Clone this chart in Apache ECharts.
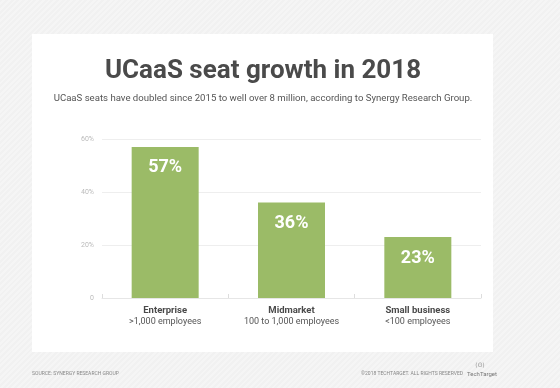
<!DOCTYPE html>
<html>
<head>
<meta charset="utf-8">
<script src="https://cdn.jsdelivr.net/npm/echarts@6/dist/echarts.min.js"></script>
<style>
html,body{margin:0;padding:0;}
body{background:repeating-linear-gradient(135deg,#f1f1f1 0px,#f1f1f1 2px,#f5f5f5 2px,#f5f5f5 4px);}
#c{width:560px;height:388px;}
</style>
</head>
<body>
<div id="c"></div>
<script>
const categories = ['Enterprise', 'Midmarket', 'Small business'];
const subLabels = ['>1,000 employees', '100 to 1,000 employees', '<100 employees'];
const values = [57, 36, 23];
const yTicks = [0, 20, 40, 60];

const chart = echarts.init(document.getElementById('c'), null, {renderer: 'canvas'});
chart.setOption({
  backgroundColor: 'transparent',
  animation: false,
  graphic: [
    {type: 'rect', shape: {x: 32, y: 34, width: 461, height: 318}, style: {fill: '#ffffff'}, z: -10},
    {type: 'text', x: 263, y: 58, style: {text: 'UCaaS seat growth in 2018', align: 'center', font: 'bold 26px "Roboto", sans-serif', fill: '#4a4a4a'}},
    {type: 'text', x: 263, y: 94, style: {text: 'UCaaS seats have doubled since 2015 to well over 8 million, according to Synergy Research Group.', align: 'center', font: '9.6px "Roboto", sans-serif', fill: '#555555'}},
    {type: 'text', x: 32, y: 371, style: {text: 'SOURCE: SYNERGY RESEARCH GROUP', font: '5px "Roboto", sans-serif', fill: '#888888'}},
    {type: 'text', x: 463, y: 371, style: {text: '©2018 TECHTARGET. ALL RIGHTS RESERVED', align: 'right', font: '5px "Roboto", sans-serif', fill: '#888888'}},
    {type: 'text', x: 467, y: 371, style: {text: 'TechTarget', font: '6px "Roboto", sans-serif', fill: '#777777'}},
    {type: 'text', x: 480, y: 362, style: {text: '(ʘ)', align: 'center', font: '6px "DejaVu Sans", sans-serif', fill: '#999999'}}
  ],
  grid: {left: 102, right: 79, top: 139, bottom: 90, containLabel: false},
  xAxis: {
    type: 'category',
    data: categories,
    axisLine: {show: true, lineStyle: {color: '#e6e6e6', width: 1}},
    axisTick: {show: true, inside: true, length: 4, lineStyle: {color: '#dddddd'}},
    axisLabel: {
      interval: 0,
      margin: 7,
      formatter: function (v, i) { return '{b|' + v + '}\n{s|' + subLabels[i] + '}'; },
      rich: {
        b: {fontFamily: 'Roboto, sans-serif', fontWeight: 'bold', fontSize: 9.5, color: '#4a4a4a', lineHeight: 11},
        s: {fontFamily: 'Roboto, sans-serif', fontSize: 9, color: '#555555', lineHeight: 11}
      }
    }
  },
  yAxis: {
    type: 'value',
    min: 0,
    max: 60,
    interval: 20,
    axisLine: {show: false},
    axisTick: {show: false},
    splitLine: {lineStyle: {color: '#eeeeee', width: 1}},
    axisLabel: {
      margin: 8,
      fontSize: 7,
      color: '#bbbbbb',
      fontFamily: 'Roboto, sans-serif',
      formatter: function (v) { return yTicks.indexOf(v) >= 0 ? (v === 0 ? '0' : v + '%') : ''; }
    }
  },
  series: [{
    type: 'bar',
    data: values,
    barWidth: 67,
    itemStyle: {color: '#9bbb67'},
    label: {
      show: true,
      position: 'insideTop',
      distance: 12,
      formatter: '{c}%',
      color: '#ffffff',
      fontWeight: 'bold',
      fontSize: 18,
      fontFamily: 'Roboto, sans-serif'
    }
  }]
});
</script>
</body>
</html>
